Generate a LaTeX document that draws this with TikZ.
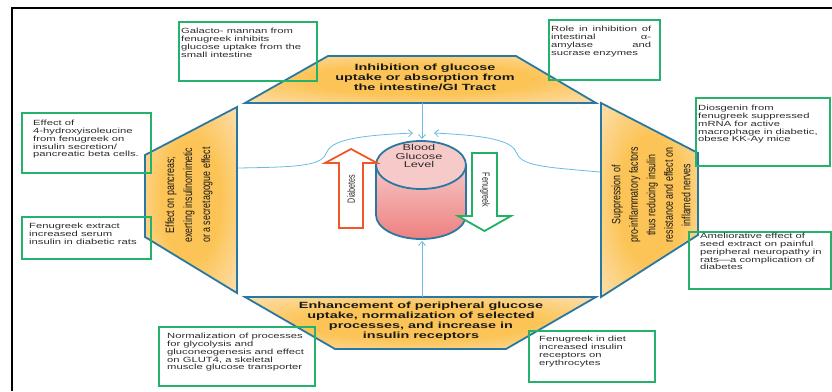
\documentclass[tikz,border=0pt]{standalone}
\usepackage{fontspec}
\setmainfont{Liberation Sans}
\usetikzlibrary{arrows.meta,calc}
\newfontfamily\widefont[FakeStretch=1.5]{Liberation Sans}
\newfontfamily\headfont[FakeStretch=1.6]{Liberation Sans}
\newfontfamily\narrowfont[FakeStretch=0.74]{Liberation Sans}
\newfontfamily\arrfont[FakeStretch=0.68]{Liberation Sans}
\definecolor{trapIn}{RGB}{252,196,86}
\definecolor{trapOut}{RGB}{253,237,220}
\definecolor{trapLine}{RGB}{40,120,162}
\definecolor{boxGreen}{RGB}{36,178,108}
\definecolor{connC}{RGB}{105,188,225}
\definecolor{diabC}{RGB}{240,88,40}
\definecolor{fenuC}{RGB}{34,176,100}
\definecolor{cylTopC}{RGB}{247,202,202}
\definecolor{cylA}{RGB}{246,198,198}
\definecolor{cylB}{RGB}{238,128,128}
\definecolor{txtC}{RGB}{45,45,45}
\pgfdeclareradialshading{trapshade}{\pgfpoint{0bp}{0bp}}{color(0bp)=(trapIn); color(16bp)=(trapIn); color(46bp)=(trapOut); color(75bp)=(trapOut)}
\tikzset{
  trap/.style={draw=trapLine, line width=1.8pt, shading=trapshade, line join=miter},
  gbox/.style={draw=boxGreen, line width=1.8pt, inner sep=0pt},
  btext/.style={anchor=north west, inner sep=0pt, align=left, text=txtC, font=\widefont\fontsize{7.5}{7.7}\selectfont},
  head/.style={align=center, inner sep=0pt, text=black!90, font=\headfont\bfseries\fontsize{9}{10}\selectfont},
  side/.style={rotate=90, align=center, inner sep=0pt, text=black!90, font=\narrowfont\fontsize{12}{18}\selectfont},
  link/.style={draw=connC, line width=0.8pt, -{Straight Barb[length=4pt,width=7pt]}},
  bigarrow/.style={line width=1.8pt, fill=white, line join=miter},
  arrlabel/.style={inner sep=0pt, text=txtC, font=\arrfont\fontsize{10.5}{11}\selectfont},
}
\begin{document}
\begin{tikzpicture}[x=1pt,y=-1pt]
\useasboundingbox (0,0) rectangle (832,391);
% frame
\draw[line width=2.2pt] (12,391) -- (12,8) -- (832,8);

% trapezoid corners
\coordinate (t1) at (328,56);  \coordinate (t2) at (516,56);
\coordinate (t3) at (596,103); \coordinate (t4) at (245,103);
\coordinate (l1) at (145,155); \coordinate (l2) at (237,107);
\coordinate (l3) at (237,293); \coordinate (l4) at (145,237);
\coordinate (d1) at (245,297); \coordinate (d2) at (596,297);
\coordinate (d3) at (506,349); \coordinate (d4) at (335,349);
\coordinate (r1) at (601,103); \coordinate (r2) at (698,153);
\coordinate (r3) at (698,235); \coordinate (r4) at (601,297);

\shadedraw[trap] (t1) -- (t2) -- (t3) -- (t4) -- cycle;
\shadedraw[trap] (l1) -- (l2) -- (l3) -- (l4) -- cycle;
\shadedraw[trap] (d1) -- (d2) -- (d3) -- (d4) -- cycle;
\shadedraw[trap] (r1) -- (r2) -- (r3) -- (r4) -- cycle;

% headings
\node[head] (htop) at (425,77) {Inhibition of glucose\\uptake or absorption from\\the intestine/GI Tract};
\node[head] (hbot) at (421,321) {Enhancement of peripheral glucose\\uptake, normalization of selected\\processes, and increase in\\insulin receptors};
\node[side] (hleft) at (189,195) {Effect on pancreas;\\exerting insulinomimetic\\or a secretagogue effect};
\node[side, font=\narrowfont\fontsize{12}{17.5}\selectfont] (hright) at (651,195) {Suppression of\\pro-inflammatory factors\\thus reducing insulin\\resistance and effect on\\inflamed nerves};

% connector end points
\coordinate (topS) at (422,103);
\coordinate (cylT) at (422,139);
\coordinate (botS) at (422,297);
\coordinate (cylB) at (422,241);
\coordinate (leftS) at (238,168);
\coordinate (leftE) at (413,133);
\coordinate (rightS) at (600,172);
\coordinate (rightE) at (434,133);

\draw[link] (topS) -- (cylT);
\draw[link] (botS) -- (cylB);
\draw[link] (leftS) .. controls (300,167) and (322,166) .. (327,152) .. controls (332,138) and (370,135) .. (leftE);
\draw[link] (rightS) .. controls (543,167) and (521,166) .. (516,152) .. controls (511,138) and (473,135) .. (rightE);

% cylinder
\shade[top color=cylA, bottom color=cylB] (376,165) -- (376,215) arc[start angle=180, end angle=360, x radius=45pt, y radius=24pt] -- (466,165) -- cycle;
\draw[draw=trapLine, line width=1.8pt] (376,165) -- (376,215) arc[start angle=180, end angle=360, x radius=45pt, y radius=24pt] -- (466,165);
\draw[draw=trapLine, line width=1.8pt, fill=cylTopC] (421,165) ellipse[x radius=45pt, y radius=24pt];
\node[inner sep=0pt, align=center, text=txtC, font=\widefont\fontsize{8.5}{8.8}\selectfont] (bgl) at (419,156) {Blood\\Glucose\\Level};

% big arrows
\draw[bigarrow, draw=diabC] (339,228) -- (363,228) -- (363,163) -- (377,163) -- (351,149) -- (325,163) -- (339,163) -- cycle;
\node[arrlabel, rotate=90] (diabl) at (351,189) {Diabetes};
\draw[bigarrow, draw=fenuC] (472,153) -- (497,153) -- (497,216) -- (511,216) -- (484.5,231) -- (458,216) -- (472,216) -- cycle;
\node[arrlabel, rotate=-90] (fenul) at (485,190) {Fenugreek};

% green boxes
\node[gbox, minimum width=138pt, minimum height=59pt] (b1) at (248,51.5) {};
\node[gbox, minimum width=111pt, minimum height=60pt] (b2) at (604.5,50) {};
\node[gbox, minimum width=129pt, minimum height=60pt] (b3) at (86.5,143) {};
\node[gbox, minimum width=129pt, minimum height=42pt] (b4) at (86.5,238) {};
\node[gbox, minimum width=156pt, minimum height=59pt] (b5) at (237,356.5) {};
\node[gbox, minimum width=126pt, minimum height=51pt] (b6) at (592,356.5) {};
\node[gbox, minimum width=134pt, minimum height=68pt] (b7) at (763,132) {};
\node[gbox, minimum width=142pt, minimum height=57pt] (b8) at (760,260.5) {};

\node[btext] (x1) at (181,28.3) {Galacto- mannan from\\fenugreek inhibits\\glucose uptake from the\\small intestine};
\node[btext, text width=100pt] (x2) at (551,26.3) {Role\hfill in\hfill inhibition\hfill of\\intestinal\hfill α-\\amylase\hfill and\\sucrase enzymes};
\node[btext] (x3) at (33,120.3) {Effect of\\4-hydroxyisoleucine\\from fenugreek on\\insulin secretion/\\pancreatic beta cells.};
\node[btext] (x4) at (29,223.3) {Fenugreek extract\\increased serum\\insulin in diabetic rats};
\node[btext] (x5) at (167,333.3) {Normalization of processes\\for glycolysis and\\gluconeogenesis and effect\\on GLUT4, a skeletal\\muscle glucose transporter};
\node[btext] (x6) at (539,336.3) {Fenugreek in diet\\increased insulin\\receptors on\\erythrocytes};
\node[btext] (x7) at (698,105.3) {Diosgenin from\\fenugreek suppressed\\mRNA for active\\macrophage in diabetic,\\obese KK-Ay mice};
\node[btext] (x8) at (700,233.3) {Ameliorative effect of\\seed extract on painful\\peripheral neuropathy in\\rats—a complication of\\diabetes};
\end{tikzpicture}
\end{document}
